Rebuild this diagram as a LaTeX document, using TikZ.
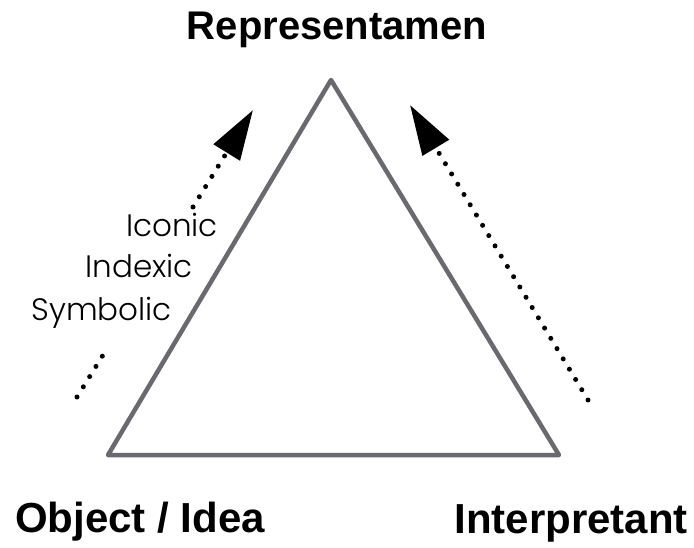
\documentclass[tikz,border=0pt]{standalone}
\usepackage{fontspec}
\setmainfont{Liberation Sans}
\newfontfamily\lightfont{Poppins Light}
\usetikzlibrary{arrows.meta}
\definecolor{trigray}{RGB}{105,105,112}
\tikzset{
  title/.style={inner sep=0pt, anchor=base, font=\bfseries\fontsize{40}{48}\selectfont},
  bottomtitle/.style={title, font=\bfseries\fontsize{42}{50}\selectfont},
  kind/.style={inner sep=0pt, anchor=base east, font=\lightfont\fontsize{31}{37}\selectfont},
  side/.style={draw=trigray, line width=4.5pt, line join=round},
  dotline/.style={line width=5pt, line cap=round, dash pattern=on 0pt off 12pt},
  bigtip/.style={-{Triangle[length=50pt,width=30pt]}}
}
\begin{document}
\begin{tikzpicture}[x=1pt,y=-1pt]
\useasboundingbox (0,0) rectangle (694,548);
% vertices
\coordinate (top) at (331,80);
\coordinate (bl) at (108,455);
\coordinate (br) at (559,455);
\draw[side] (top) -- (bl) -- (br) -- cycle;
% labels
\node[title] (rep) at (337,40) {Representamen};
\node[bottomtitle] (obj) at (140,532) {Object / Idea};
\node[bottomtitle] (int) at (571,533) {Interpretant};
\node[kind] (ico) at (218,237) {Iconic};
\node[kind] (ind) at (193,278) {Indexic};
\node[kind] (sym) at (172,320) {Symbolic};
% left arrow
\coordinate (l0) at (77,397);
\coordinate (l1) at (108,347);
\coordinate (l2) at (193,207);
\coordinate (l3) at (253,110);
\draw[dotline] (l0) -- (l1);
\draw[dotline, bigtip] (l2) -- (l3);
% right arrow
\coordinate (r0) at (588,400);
\coordinate (r1) at (410,105);
\draw[dotline, bigtip] (r0) -- (r1);
\end{tikzpicture}
\end{document}
